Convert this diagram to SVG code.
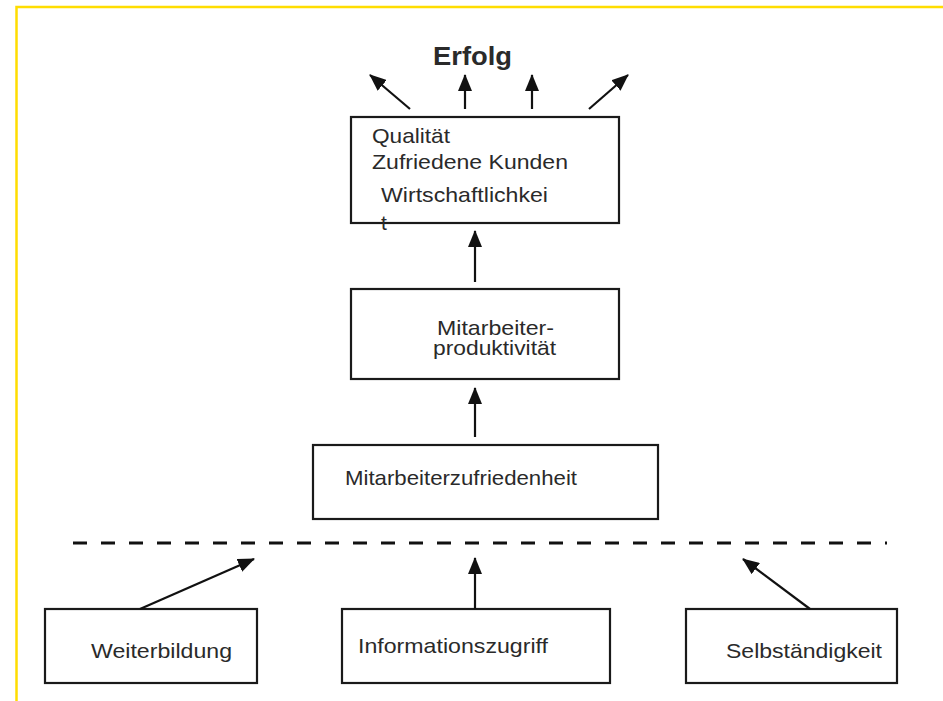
<svg xmlns="http://www.w3.org/2000/svg" width="943" height="701" viewBox="0 0 943 701">
<style>
.box{fill:#fff;stroke:#1a1a1a;stroke-width:2.2}
.t{font-family:"Liberation Sans",Arial,sans-serif;font-size:21px;fill:#2a2a2a}
.b{font-family:"Liberation Sans",Arial,sans-serif;font-size:26px;font-weight:bold;fill:#2a2a2a}
.c{stroke:#111;stroke-width:2.2;fill:none;marker-end:url(#ah)}
</style>
<defs>
<marker id="ah" viewBox="0 0 17 14" refX="16" refY="7" markerWidth="17" markerHeight="14" markerUnits="userSpaceOnUse" orient="auto">
<path d="M0,0 L17,7 L0,14 Z" fill="#111"/>
</marker>
</defs>
<rect width="943" height="701" fill="#fff"/>
<g id="frame" fill="none" stroke="#FFDD00" stroke-width="2.5">
<path d="M16.5,701 V7 H943"/>
</g>
<g id="erfolg"><text class="b" x="433" y="65" textLength="79" lengthAdjust="spacingAndGlyphs">Erfolg</text></g>
<g id="ergebnis">
<rect class="box" x="351" y="117" width="268" height="106"/>
<text class="t" x="372" y="143" textLength="78" lengthAdjust="spacingAndGlyphs">Qualität</text>
<text class="t" x="372" y="169" textLength="196" lengthAdjust="spacingAndGlyphs">Zufriedene Kunden</text>
<text class="t" x="381" y="202" textLength="167" lengthAdjust="spacingAndGlyphs">Wirtschaftlichkei</text>
<text class="t" x="381" y="230">t</text>
</g>
<g id="produktivitaet">
<rect class="box" x="351" y="289" width="268" height="90"/>
<text class="t" x="437" y="335" textLength="117" lengthAdjust="spacingAndGlyphs">Mitarbeiter-</text>
<text class="t" x="433" y="355" textLength="123" lengthAdjust="spacingAndGlyphs">produktivität</text>
</g>
<g id="zufriedenheit">
<rect class="box" x="313" y="445" width="345" height="74"/>
<text class="t" x="345" y="485" textLength="232" lengthAdjust="spacingAndGlyphs">Mitarbeiterzufriedenheit</text>
</g>
<g id="weiterbildung">
<rect class="box" x="45" y="609" width="212" height="74"/>
<text class="t" x="91" y="658" textLength="141" lengthAdjust="spacingAndGlyphs">Weiterbildung</text>
</g>
<g id="informationszugriff">
<rect class="box" x="342" y="609" width="268" height="74"/>
<text class="t" x="358" y="653" textLength="190" lengthAdjust="spacingAndGlyphs">Informationszugriff</text>
</g>
<g id="selbstaendigkeit">
<rect class="box" x="686" y="609" width="211" height="74"/>
<text class="t" x="726" y="658" textLength="156" lengthAdjust="spacingAndGlyphs">Selbständigkeit</text>
</g>
<g id="connectors">
<line class="c" x1="410" y1="109" x2="370" y2="75"/>
<line class="c" x1="465" y1="109" x2="465" y2="75"/>
<line class="c" x1="532" y1="109" x2="532" y2="75"/>
<line class="c" x1="589" y1="109" x2="628" y2="75"/>
<line class="c" x1="475" y1="282" x2="475" y2="231"/>
<line class="c" x1="475" y1="437" x2="475" y2="388"/>
<line x1="73" y1="543" x2="887" y2="543" stroke="#111" stroke-width="3" stroke-dasharray="14 14"/>
<line class="c" x1="140" y1="609" x2="254" y2="559"/>
<line class="c" x1="475" y1="609" x2="475" y2="558"/>
<line class="c" x1="810" y1="609" x2="743" y2="559"/>
</g>
</svg>
